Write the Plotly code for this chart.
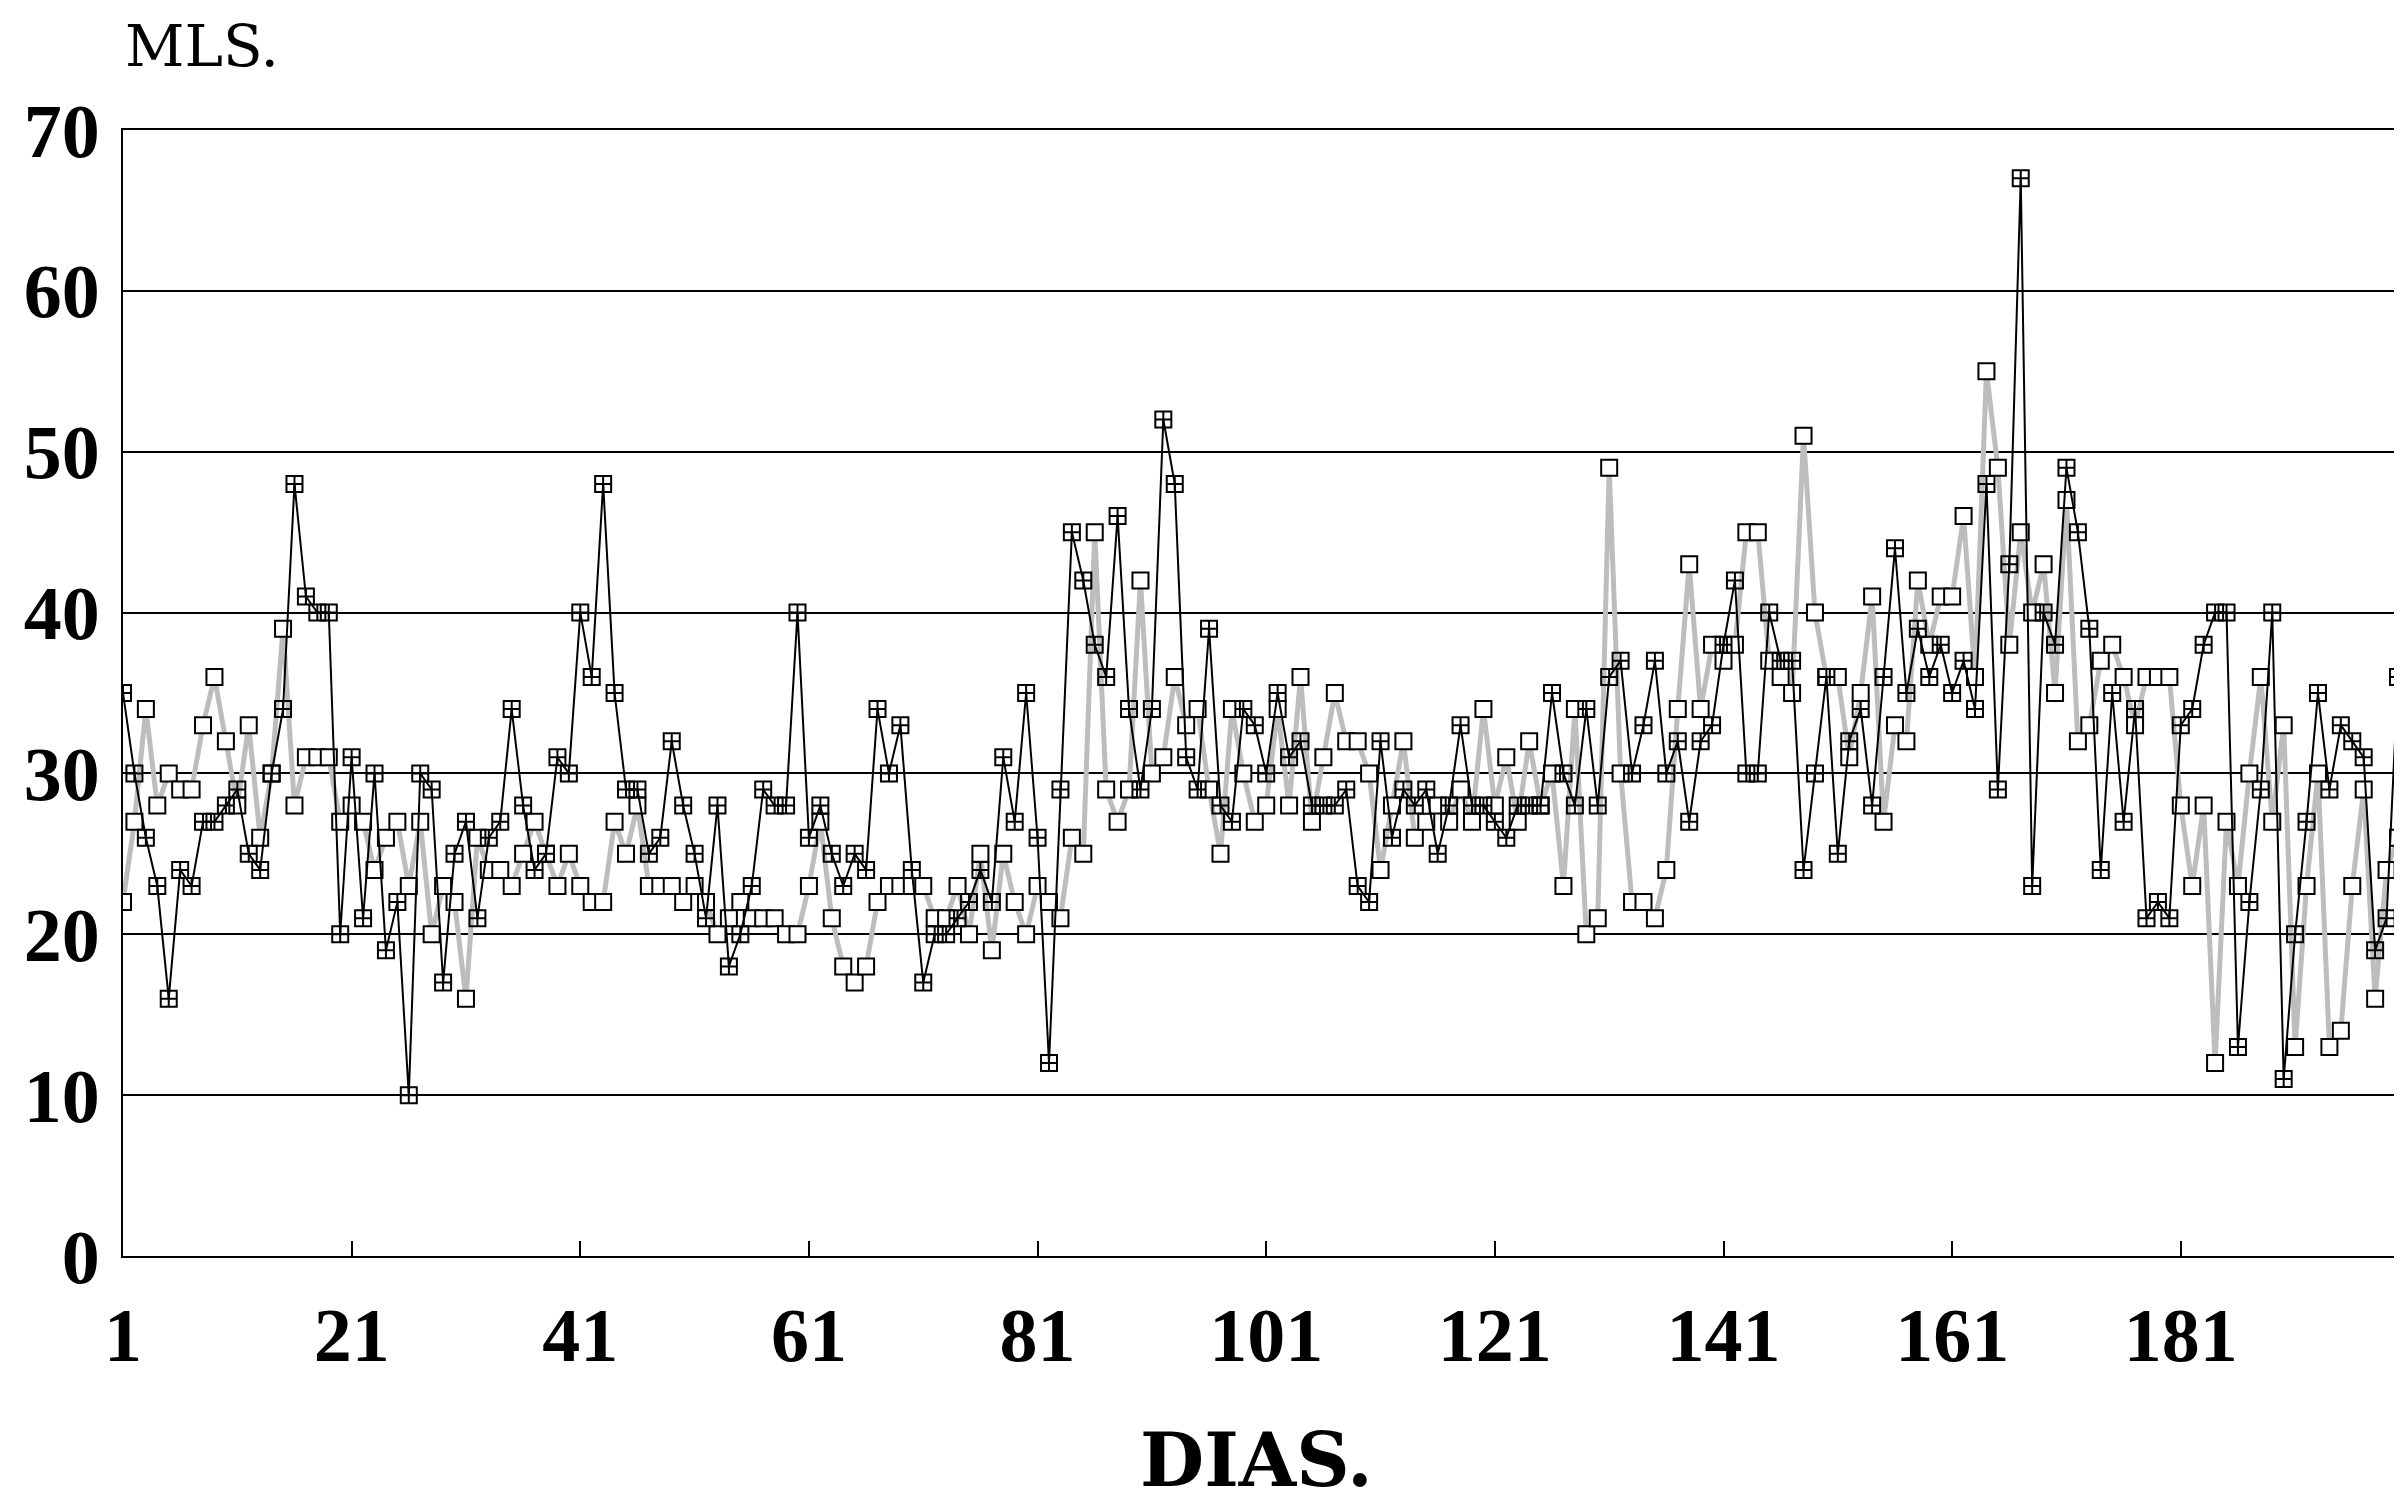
import plotly.graph_objects as go

days = list(range(1, 201))

serie_a = [35, 30, 26, 23, 16, 24, 23, 27, 27, 28, 29, 25, 24, 30, 34, 48, 41, 40, 40, 20,
           31, 21, 30, 19, 22, 10, 30, 29, 17, 25, 27, 21, 26, 27, 34, 28, 24, 25, 31, 30,
           40, 36, 48, 35, 29, 29, 25, 26, 32, 28, 25, 21, 28, 18, 20, 23, 29, 28, 28, 40,
           26, 28, 25, 23, 25, 24, 34, 30, 33, 24, 17, 20, 20, 21, 22, 24, 22, 31, 27, 35,
           26, 12, 29, 45, 42, 38, 36, 46, 34, 29, 34, 52, 48, 31, 29, 39, 28, 27, 34, 33,
           30, 35, 31, 32, 28, 28, 28, 29, 23, 22, 32, 26, 29, 28, 29, 25, 28, 33, 28, 28,
           27, 26, 28, 28, 28, 35, 30, 28, 34, 28, 36, 37, 30, 33, 37, 30, 32, 27, 32, 33,
           38, 42, 30, 30, 40, 37, 37, 24, 30, 36, 25, 32, 34, 28, 36, 44, 35, 39, 36, 38,
           35, 37, 34, 48, 29, 43, 67, 23, 40, 38, 49, 45, 39, 24, 35, 27, 34, 21, 22, 21,
           33, 34, 38, 40, 40, 13, 22, 29, 40, 11, 20, 27, 35, 29, 33, 32, 31, 19, 21, 36]

serie_b = [22, 27, 34, 28, 30, 29, 29, 33, 36, 32, 28, 33, 26, 30, 39, 28, 31, 31, 31, 27,
           28, 27, 24, 26, 27, 23, 27, 20, 23, 22, 16, 26, 24, 24, 23, 25, 27, 25, 23, 25,
           23, 22, 22, 27, 25, 28, 23, 23, 23, 22, 23, 22, 20, 21, 22, 21, 21, 21, 20, 20,
           23, 27, 21, 18, 17, 18, 22, 23, 23, 23, 23, 21, 21, 23, 20, 25, 19, 25, 22, 20,
           23, 22, 21, 26, 25, 45, 29, 27, 29, 42, 30, 31, 36, 33, 34, 29, 25, 34, 30, 27,
           28, 34, 28, 36, 27, 31, 35, 32, 32, 30, 24, 28, 32, 26, 27, 28, 27, 29, 27, 34,
           28, 31, 27, 32, 28, 30, 23, 34, 20, 21, 49, 30, 22, 22, 21, 24, 34, 43, 34, 38,
           37, 38, 45, 45, 37, 36, 35, 51, 40, 36, 36, 31, 35, 41, 27, 33, 32, 42, 38, 41,
           41, 46, 36, 55, 49, 38, 45, 40, 43, 35, 47, 32, 33, 37, 38, 36, 33, 36, 36, 36,
           28, 23, 28, 12, 27, 23, 30, 36, 27, 33, 13, 23, 30, 13, 14, 23, 29, 16, 24, 26]

x_ticks = [1, 21, 41, 61, 81, 101, 121, 141, 161, 181]
y_ticks = [0, 10, 20, 30, 40, 50, 60, 70]

FONT = "DejaVu Serif"
TICKFONT = "Liberation Serif"

fig = go.Figure()
fig.add_trace(go.Scatter(
    x=days, y=serie_b, mode="lines+markers",
    line=dict(color="#bdbdbd", width=5),
    marker=dict(symbol="square", size=16, color="white",
                line=dict(color="black", width=2)),
    showlegend=False))
fig.add_trace(go.Scatter(
    x=days, y=serie_a, mode="lines+markers",
    line=dict(color="black", width=2),
    marker=dict(symbol="square-cross-open", size=16, color="black",
                line=dict(color="black", width=2)),
    showlegend=False))

fig.update_layout(
    width=2394, height=1501,
    margin=dict(l=115, r=4, t=122, b=253),
    paper_bgcolor="white", plot_bgcolor="white",
    font=dict(family=FONT, color="black"),
    xaxis=dict(range=[1, 200], tickvals=x_ticks, ticktext=[str(v) for v in x_ticks],
               automargin=False,
               showgrid=False, zeroline=False, showline=True, mirror=True,
               linecolor="black", linewidth=2, ticks="inside", ticklen=15,
               tickwidth=2, tickcolor="black", ticklabelstandoff=12,
               tickfont=dict(family=TICKFONT, size=76, color="black", weight="bold")),
    yaxis=dict(range=[0, 70], tickvals=y_ticks, ticktext=[str(v) for v in y_ticks],
               automargin=False,
               showgrid=True, gridcolor="black", gridwidth=1.5, zeroline=False,
               showline=True, mirror=True, linecolor="black", linewidth=2,
               ticks="", ticklabelstandoff=6,
               tickfont=dict(family=TICKFONT, size=76, color="black", weight="bold")),
    annotations=[
        dict(text="MLS.", xref="paper", yref="paper", x=0.0, y=1.0,
             xanchor="left", yanchor="middle", yshift=84, xshift=0, showarrow=False,
             font=dict(family=FONT, size=58, color="black")),
        dict(text="<b>DIAS.</b>", x=0.5, y=0, xref="paper", yref="paper",
             xanchor="center", yanchor="middle", yshift=-204, xshift=-4, showarrow=False,
             font=dict(family=FONT, size=74, color="black")),
    ],
)

fig.write_html("out.html")
